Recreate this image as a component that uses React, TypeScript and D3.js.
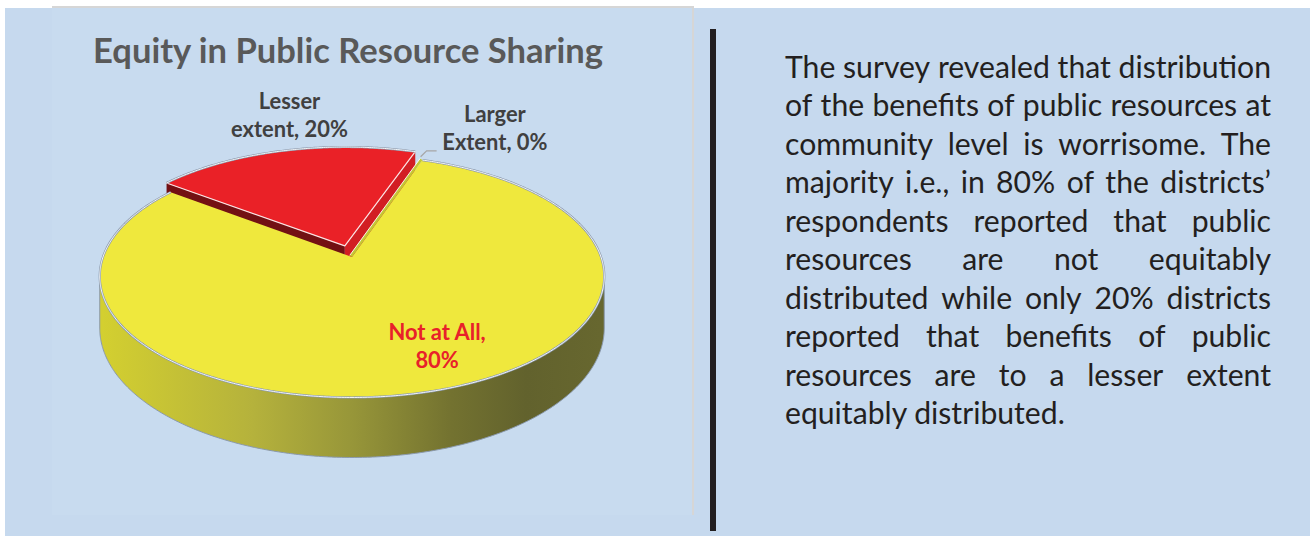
import React, { useMemo } from 'react'
import * as d3 from 'd3'

// pie data, in the order the slices run clockwise
const categories = ['Lesser extent', 'Larger Extent', 'Not at All']
const shares = [20, 0, 80]
const labelLines = [
  ['Lesser', 'extent, 20%'],
  ['Larger', 'Extent, 0%'],
  ['Not at All,', '80%'],
]
const sliceColors = ['#ea2127', '#c4c734', '#efe83d']
const labelColors = ['#404040', '#404040', '#e8212a']
const exploded = [0.1, 0, 0]
const chartTitle = 'Equity in Public Resource Sharing'

// the note on the right, one entry per printed line
const noteLines = [
  'The survey revealed that distribution',
  'of the benefits of public resources at',
  'community level is worrisome. The',
  'majority i.e., in 80% of the districts\u2019',
  'respondents reported that public',
  'resources are not equitably',
  'distributed while only 20% districts',
  'reported that benefits of public',
  'resources are to a lesser extent',
  'equitably distributed.',
]

const W = 1310
const H = 536
const deg = Math.PI / 180

// 3d pie geometry (projected centre, radii, perspective, wall height)
const cx = 352
const cy = 257
const rx = 249
const ry = 118
const persp = 0.16
const depth = 50.4
const firstAngle = -53 * deg

const FONT = 'Lato, "Open Sans", sans-serif'

let ctx: CanvasRenderingContext2D | null = null
function textWidth(s: string, font: string) {
  if (!ctx) ctx = document.createElement('canvas').getContext('2d')
  ctx!.font = font
  return ctx!.measureText(s).width
}

function proj(a: number, r: number, h: number, e = 0, m = 0): [number, number] {
  const x = r * Math.sin(a) + e * Math.sin(m)
  const z = -r * Math.cos(a) - e * Math.cos(m)
  const k = 1 / (1 - persp * z)
  return [cx + rx * x * k, cy + (ry * z + depth * h) * k]
}

function arcPts(a0: number, a1: number, h: number, e = 0, m = 0, r = 1) {
  const n = Math.max(2, Math.ceil(Math.abs(a1 - a0) / (0.5 * deg)))
  return d3.range(n + 1).map((i) => proj(a0 + ((a1 - a0) * i) / n, r, h, e, m))
}

const line = d3.line()
const closed = (pts: [number, number][]) => line(pts) + 'Z'

export default function App() {
  const pie = d3
    .pie<number>()
    .sort(null)
    .startAngle(firstAngle)
    .endAngle(firstAngle + 2 * Math.PI)
  const arcs = pie(shares)

  const sizes = useMemo(() => {
    const label = (20 * 117) / textWidth('extent, 20%', `bold 20px ${FONT}`)
    const title = (30 * 511) / textWidth(chartTitle, `bold 30px ${FONT}`)
    const note = (28 * 486) / textWidth(noteLines[0], `28px ${FONT}`)
    return { label, title, note }
  }, [])

  const sil0 = Math.acos(-persp)
  const sil1 = 2 * Math.PI - sil0

  // back slices first
  const order = arcs
    .map((a, i) => i)
    .filter((i) => shares[i] > 0)
    .sort((i, j) => {
      const mi = (arcs[i].startAngle + arcs[i].endAngle) / 2
      const mj = (arcs[j].startAngle + arcs[j].endAngle) / 2
      return -Math.cos(mi) - -Math.cos(mj)
    })

  const slices = order.map((i) => {
    const a0 = arcs[i].startAngle
    const a1 = arcs[i].endAngle
    const m = (a0 + a1) / 2
    const e = exploded[i]
    const c = sliceColors[i]
    const apex = proj(0, 0, 0, e, m)
    const face = (a: number) =>
      closed([proj(a, 0, 0, e, m), proj(a, 1, 0, e, m), proj(a, 1, 1, e, m), proj(a, 0, 1, e, m)])
    const parts: JSX.Element[] = []
    if (Math.sin(a0) < 0)
      parts.push(<path key="f0" d={face(a0)} fill={d3.color(c)!.darker(2).toString()} />)
    if (Math.sin(a1) > 0)
      parts.push(<path key="f1" d={face(a1)} fill={d3.color(c)!.darker(0.3).toString()} />)
    const s0 = Math.max(a0, sil0)
    const s1 = Math.min(a1, sil1)
    if (s1 > s0) {
      const wall = [...arcPts(s0, s1, 0, e, m), ...arcPts(s0, s1, 1, e, m).reverse()]
      parts.push(
        <path key="w" d={closed(wall)} fill="url(#wall)" stroke="#8a99ad" strokeWidth={1} />
      )
    }
    const top = [apex, ...arcPts(a0, a1, 0, e, m)]
    parts.push(
      <path
        key="t"
        d={closed(top)}
        fill={c}
        stroke={e > 0 ? '#fbe3e3' : 'none'}
        strokeWidth={1.2}
        strokeLinejoin="round"
      />
    )
    const rim = line(arcPts(a0, a1, 0, e, m))!
    parts.push(<path key="r1" d={rim} fill="none" stroke="#8a99ad" strokeWidth={2.2} />)
    parts.push(<path key="r2" d={rim} fill="none" stroke="#ffffff" strokeWidth={0.9} />)
    return <g key={categories[i]}>{parts}</g>
  })

  // zero-value slices show as a thin strip along their edge
  const strips = arcs
    .map((a, i) => i)
    .filter((i) => shares[i] === 0)
    .map((i) => {
      const a = arcs[i].startAngle
      const p0 = proj(a, 0, 0)
      const p1 = proj(a, 1, 0)
      const len = Math.hypot(p1[0] - p0[0], p1[1] - p0[1])
      const nx = (p1[1] - p0[1]) / len
      const ny = -(p1[0] - p0[0]) / len
      const w = 2.8
      const q0: [number, number] = [p0[0] + nx * w, p0[1] + ny * w]
      const q1: [number, number] = [p1[0] + nx * w, p1[1] + ny * w]
      return (
        <g key={categories[i]}>
          <path d={closed([p0, p1, q1, q0])} fill={sliceColors[i]} />
          <path d={line([q0, q1])!} stroke="#ffffff" strokeWidth={0.9} />
        </g>
      )
    })

  // data labels
  const labels = arcs.map((a, i) => {
    const m = (a.startAngle + a.endAngle) / 2
    let x = 0
    let y0 = 0
    let leader: string | null = null
    if (shares[i] === 0) {
      const p = proj(a.startAngle, 1, 0)
      leader = line([
        [p[0] - 1.8, p[1] - 3.3],
        [p[0] + 4.2, p[1] - 9.3],
        [p[0] + 14.2, p[1] - 9.3],
      ])
      x = p[0] + 72.5
      y0 = p[1] - 38
    } else if (exploded[i] > 0) {
      const p = proj(m, 1, 0, exploded[i], m)
      x = p[0] + 6
      y0 = p[1] - 42
    } else {
      const p = proj(m, 0.6, 0)
      x = p[0] + 37
      y0 = p[1] + 8.5
    }
    return (
      <g key={categories[i]}>
        {leader && <path d={leader} fill="none" stroke="#a6a6a6" strokeWidth={1.2} />}
        <text
          textAnchor="middle"
          fontFamily={FONT}
          fontWeight="bold"
          fontSize={sizes.label}
          fill={labelColors[i]}
        >
          {labelLines[i].map((t, j) => (
            <tspan key={j} x={x} y={y0 + j * 28}>
              {t}
            </tspan>
          ))}
        </text>
      </g>
    )
  })

  // justified note text
  const noteLeft = 785
  const noteRight = 1271
  const noteFont = `${sizes.note}px ${FONT}`
  const note = noteLines.map((ln, i) => {
    const y = 78 + i * 38.45
    if (i === noteLines.length - 1)
      return (
        <text key={i} x={noteLeft} y={y}>
          {ln}
        </text>
      )
    const words = ln.split(' ')
    const ws = words.map((w) => textWidth(w, noteFont))
    const gap = (noteRight - noteLeft - d3.sum(ws)) / (words.length - 1)
    let x = noteLeft
    return (
      <g key={i}>
        {words.map((w, j) => {
          const el = (
            <text key={j} x={x} y={y}>
              {w}
            </text>
          )
          x += ws[j] + gap
          return el
        })}
      </g>
    )
  })

  return (
    <div style={{ position: 'absolute', left: 0, top: 0 }}>
      <svg width={W} height={H} style={{ display: 'block', background: '#ffffff' }}>
        <defs>
          <linearGradient id="wall" gradientUnits="userSpaceOnUse" x1={cx - rx} x2={cx + rx} y1={0} y2={0}>
            <stop offset="0" stopColor="#d3cf30" />
            <stop offset="0.3" stopColor="#b5b23c" />
            <stop offset="0.5" stopColor="#979639" />
            <stop offset="0.7" stopColor="#737230" />
            <stop offset="0.85" stopColor="#62622d" />
            <stop offset="1" stopColor="#67672f" />
          </linearGradient>
        </defs>
        <rect x={5} y={8} width={W - 5} height={H - 8} fill="#c6d9ee" />
        <rect x={52} y={7} width={641} height={508} fill="#c8dbef" />
        <path d="M52,7H693V515" fill="none" stroke="#d6d6d6" strokeWidth={2} />
        <rect x={710} y={29} width={6} height={502} fill="#231f20" />

        <text
          x={348}
          y={63}
          textAnchor="middle"
          fontFamily={FONT}
          fontWeight="bold"
          fontSize={sizes.title}
          fill="#595959"
        >
          {chartTitle}
        </text>

        {slices}
        {strips}
        {labels}

        <g fontFamily={FONT} fontSize={sizes.note} fill="#231f20">
          {note}
        </g>
      </svg>
    </div>
  )
}
